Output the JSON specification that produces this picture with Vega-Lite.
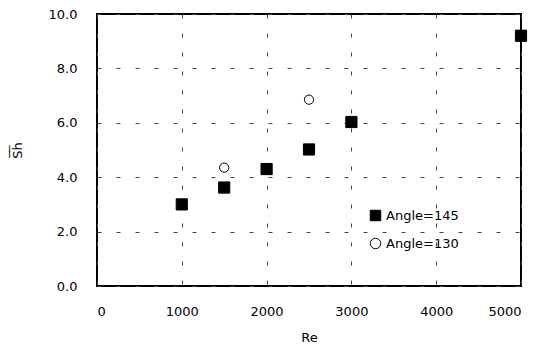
{
  "$schema": "https://vega.github.io/schema/vega-lite/v6.json",
  "width": 424,
  "height": 272,
  "autosize": {"type": "none"},
  "padding": {"left": 97, "top": 14, "right": 23, "bottom": 59},
  "background": "white",
  "config": {
    "view": {"stroke": "black", "strokeWidth": 2},
    "font": "DejaVu Sans",
    "axis": {
      "grid": true,
      "gridDash": [4, 15],
      "gridColor": "#444",
      "gridWidth": 1,
      "domain": false,
      "ticks": false,
      "tickSize": 0,
      "labelFont": "DejaVu Sans",
      "labelFontSize": 13,
      "labelColor": "black",
      "titleFont": "DejaVu Sans",
      "titleFontSize": 13,
      "titleFontWeight": "normal",
      "titleColor": "black"
    },
    "legend": {
      "orient": "none",
      "legendX": 272,
      "legendY": 195,
      "title": null,
      "labelFont": "DejaVu Sans",
      "labelFontSize": 13,
      "labelColor": "black",
      "symbolSize": 110,
      "symbolStrokeWidth": 1,
      "symbolOpacity": 1,
      "rowPadding": 13,
      "labelOffset": 4
    }
  },
  "data": {
    "values": [
      {"Re": 1000, "Sh": 3.0, "series": "Angle=145"},
      {"Re": 1500, "Sh": 3.62, "series": "Angle=145"},
      {"Re": 2000, "Sh": 4.3, "series": "Angle=145"},
      {"Re": 2500, "Sh": 5.02, "series": "Angle=145"},
      {"Re": 3000, "Sh": 6.03, "series": "Angle=145"},
      {"Re": 5000, "Sh": 9.2, "series": "Angle=145"},
      {"Re": 1500, "Sh": 4.35, "series": "Angle=130"},
      {"Re": 2500, "Sh": 6.85, "series": "Angle=130"}
    ]
  },
  "encoding": {
    "x": {
      "field": "Re",
      "type": "quantitative",
      "scale": {"domain": [0, 5000], "nice": false},
      "axis": {
        "title": "Re",
        "values": [0, 1000, 2000, 3000, 4000, 5000],
        "format": "d",
        "labelPadding": 19,
        "titleX": 212,
        "titleY": 51,
        "titleBaseline": "middle",
        "titleAlign": "center"
      }
    },
    "y": {
      "field": "Sh",
      "type": "quantitative",
      "scale": {"domain": [0, 10], "nice": false},
      "axis": {
        "title": "S\u0305h\u0305",
        "values": [0, 2, 4, 6, 8, 10],
        "format": ".1f",
        "labelPadding": 20,
        "titleX": -80,
        "titleY": 136,
        "titleBaseline": "middle",
        "titleAlign": "center",
        "titleAngle": -90
      }
    },
    "shape": {
      "field": "series",
      "type": "nominal",
      "scale": {"domain": ["Angle=145", "Angle=130"], "range": ["square", "circle"]},
      "legend": {"orient": "none", "legendX": 272, "legendY": 195, "title": null}
    },
    "fill": {
      "field": "series",
      "type": "nominal",
      "scale": {"domain": ["Angle=145", "Angle=130"], "range": ["black", "white"]},
      "legend": {"orient": "none", "legendX": 272, "legendY": 195, "title": null}
    },
    "stroke": {
      "field": "series",
      "type": "nominal",
      "scale": {"domain": ["Angle=145", "Angle=130"], "range": ["black", "black"]},
      "legend": {"orient": "none", "legendX": 272, "legendY": 195, "title": null}
    }
  },
  "layer": [
    {
      "transform": [{"filter": "datum.series === 'Angle=145'"}],
      "mark": {"type": "point", "strokeWidth": 1, "opacity": 1, "size": 125}
    },
    {
      "transform": [{"filter": "datum.series === 'Angle=130'"}],
      "mark": {"type": "point", "strokeWidth": 1, "opacity": 1, "size": 85}
    }
  ]
}
